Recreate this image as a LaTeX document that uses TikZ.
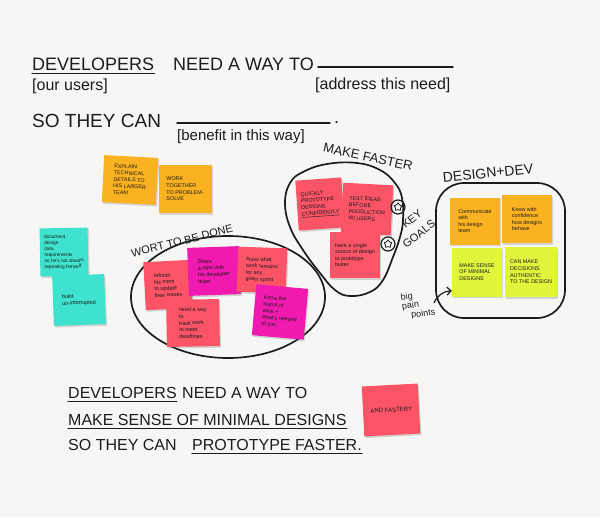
\documentclass[tikz,border=0pt]{standalone}
\usepackage{fontspec}
\setmainfont{Liberation Sans}
\usetikzlibrary{arrows.meta,shadows,shapes.geometric}
\definecolor{board}{RGB}{246,246,245}
\definecolor{ink}{RGB}{28,28,28}
\definecolor{noteorange}{RGB}{251,178,32}
\definecolor{noteteal}{RGB}{62,226,206}
\definecolor{notered}{RGB}{250,84,102}
\definecolor{notemagenta}{RGB}{240,26,176}
\definecolor{notelime}{RGB}{224,246,60}
\tikzset{
    board diagram/.style = {x=1pt, y=-1pt, >={Straight Barb[length=4pt]}},
    marker/.style      = {ink, line width=1.5pt, line cap=round, line join=round},
    cluster/.style     = {marker, line width=1.7pt},
    heading/.style     = {text=ink, inner sep=0pt, anchor=base west,
                          font=\fontsize{18}{20}\selectfont},
    caption/.style     = {heading, font=\fontsize{16}{18}\selectfont},
    hint/.style        = {text=ink, inner sep=0pt, anchor=base west,
                          font=\fontsize{16}{18}\selectfont},
    tag/.style         = {text=ink, inner sep=0pt,
                          font=\fontsize{13}{15}\selectfont},
    note/.style        = {align=left, text=ink, inner sep=2pt,
                          minimum width=50pt, minimum height=47pt,
                          font=\fontsize{5.4}{6.6}\selectfont,
                          drop shadow={shadow xshift=1.2pt, shadow yshift=-1.6pt,
                                       opacity=0.3}},
    goal/.style        = {circle, draw=ink, line width=1.2pt,
                          minimum size=14pt, inner sep=0pt},
    goalstar/.style    = {star, star points=5, draw=ink, line width=0.8pt,
                          minimum size=8pt, inner sep=0pt}
}

\begin{document}
\begin{tikzpicture}[board diagram]
\useasboundingbox[fill=board] (0,0) rectangle (600,517);

% ================= Statement template =================
\node[heading] (devs) at (32,70) {DEVELOPERS};
\node[heading] (needway) at (173,70) {NEED A WAY TO};
\node[hint] (users) at (32,90) {[our users]};
\node[hint] (address) at (315,89) {[address this need]};
\node[heading, font=\fontsize{19}{21}\selectfont] (socan) at (32,127) {SO THEY CAN};
\node[hint, font=\fontsize{15}{17}\selectfont] (benefit) at (177,140) {[benefit in this way]};
\node[heading] (stop) at (334,123) {.};
\draw[marker] ([yshift=-3pt]devs.south west) -- ([yshift=-3pt]devs.south east);
\draw[marker] (318,67) -- (453,67);
\draw[marker] (177,123) -- (330,123);

% ================= Loose notes =================
\node[note, fill=noteorange, rotate=-3, minimum width=54pt] (explain) at (130,180)
    {EXPLAIN\\TECHNICAL\\DETAILS TO\\HIS LARGER\\TEAM};
\node[note, fill=noteorange, minimum width=53pt, minimum height=48pt] (worktogether) at (185,189)
    {WORK\\TOGETHER\\TO PROBLEM-\\SOLVE};
\node[note, fill=noteteal, rotate=1, minimum width=48pt, minimum height=48pt,
      font=\fontsize{4.8}{6}\selectfont] (document) at (64,252)
    {document\\design\\data\\requirements\\so he's not always\\repeating himself};
\node[note, fill=noteteal, rotate=2, minimum width=52pt, minimum height=50pt] (build) at (79,300)
    {build\\un-interrupted};

% ================= Work to be done =================
\draw[cluster] (228,297) ellipse [x radius=97, y radius=61];
\node[tag, rotate=14, font=\fontsize{11}{13}\selectfont] (wortlabel) at (182,241) {WORT TO BE DONE};

\node[note, fill=notered, rotate=3, minimum width=47pt, minimum height=48pt] (refresh) at (168,285)
    {refresh\\his mem\\to update\\their issues};
\node[note, fill=notered, rotate=1, minimum width=53pt] (deadlines) at (193,323)
    {need a way\\to\\track work\\to meet\\deadlines};
\node[note, fill=notemagenta, rotate=2, minimum width=52pt, minimum height=48pt] (share) at (214,271)
    {Share\\a repo with\\his developer\\team};
\node[note, fill=notered, rotate=-2, minimum width=49pt, minimum height=45pt] (sprint) at (262,270)
    {know what\\work remains\\for any\\given sprint};
\node[note, fill=notemagenta, rotate=-5, minimum width=52pt, minimum height=51pt] (status) at (280,312)
    {Know the\\status of\\work +\\what's needed\\of him};

% ================= Make faster =================
\draw[cluster] plot[smooth cycle, tension=0.7] coordinates {
    (327,164) (357,163) (380,170) (395,183) (402,198) (403,220) (400,237)
    (393,257) (383,280) (370,292) (350,296) (335,290) (320,273) (303,250)
    (290,227) (285,203) (290,183) (303,172)};
\node[tag, rotate=-12] (fasterlabel) at (368,157) {MAKE FASTER};

\node[note, fill=notered, rotate=4, minimum width=46pt, minimum height=50pt] (quickly) at (320,204)
    {QUICKLY\\PROTOTYPE\\DESIGNS\\\underline{CONFIDENTLY}};
\node[note, fill=notered, rotate=-3, minimum height=50pt] (testideas) at (367,209)
    {TEST IDEAS\\BEFORE\\PRODUCTION\\W/ USERS};
\node[note, fill=notered, minimum height=46pt] (singlesource) at (355,255)
    {have a single\\source of design\\to prototype\\faster};

\node[goal] (goal1) at (398,207) {};
\node[goalstar] (goal1star) at (goal1) {};
\node[goal] (goal2) at (388,244) {};
\node[goalstar] (goal2star) at (goal2) {};
\node[tag, rotate=38, font=\fontsize{11}{13}\selectfont] (keylabel) at (412,219) {KEY};
\node[tag, rotate=38, font=\fontsize{11}{13}\selectfont] (goalslabel) at (419,234) {GOALS};

% ================= Design + dev =================
\draw[cluster, rounded corners=28pt] (436,183) rectangle (565,318);
\node[tag, rotate=6, font=\fontsize{14}{16}\selectfont] (ddlabel) at (488,173) {DESIGN+DEV};

\node[note, fill=noteorange] (communicate) at (475,221)
    {Communicate\\with\\his design\\team};
\node[note, fill=noteorange, minimum height=48pt] (confidence) at (527,219)
    {Know with\\confidence\\how designs\\behave};
\node[note, fill=notelime, minimum height=49pt] (minimal) at (477,272)
    {MAKE SENSE\\OF MINIMAL\\DESIGNS};
\node[note, fill=notelime, minimum width=52pt, minimum height=50pt] (authentic) at (531,272)
    {CAN MAKE\\DECISIONS\\AUTHENTIC\\TO THE DESIGN};

\node[tag, align=left, rotate=8, font=\fontsize{9}{9.5}\selectfont] (pain) at (418,305)
    {big\\pain\\\hspace*{8pt}points};
\draw[marker, line width=1.2pt, ->] (pain.east) to[bend left=30] ([yshift=6pt]minimal.south west);

% ================= Filled-in statement =================
\node[caption] (bdevs) at (68,398) {DEVELOPERS};
\node[caption] (bneed) at (182,398) {NEED A WAY TO};
\node[caption] (bsense) at (68,425) {MAKE SENSE OF MINIMAL DESIGNS};
\node[caption] (bsocan) at (68,450) {SO THEY CAN};
\node[caption] (bproto) at (192,450) {PROTOTYPE FASTER.};
\draw[marker] ([yshift=-3pt]bdevs.south west) -- ([yshift=-3pt]bdevs.south east);
\draw[marker] ([yshift=-3pt]bsense.south west) -- ([yshift=-3pt]bsense.south east);
\draw[marker] ([yshift=-3pt]bproto.south west) -- ([yshift=-3pt]bproto.south east);

\node[note, fill=notered, rotate=3, minimum width=56pt, minimum height=50pt,
      font=\fontsize{6}{7}\selectfont] (andfaster) at (391,410) {AND FASTER?};

\end{tikzpicture}
\end{document}
